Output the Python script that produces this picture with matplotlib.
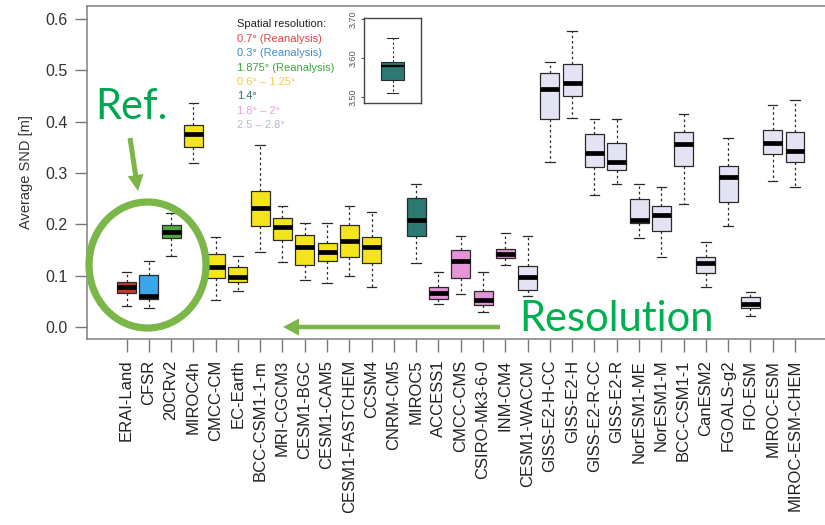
import matplotlib
matplotlib.use("Agg")
import matplotlib.pyplot as plt
from matplotlib.patches import Ellipse, FancyArrow

plt.rcParams['font.family'] = ['Liberation Sans', 'DejaVu Sans']

# snow depth per dataset: box quartiles, median and whisker ends (m)
models = ['ERAI-Land', 'CFSR', '20CRv2', 'MIROC4h', 'CMCC-CM', 'EC-Earth',
          'BCC-CSM1-1-m', 'MRI-CGCM3', 'CESM1-BGC', 'CESM1-CAM5', 'CESM1-FASTCHEM',
          'CCSM4', 'CNRM-CM5', 'MIROC5', 'ACCESS1', 'CMCC-CMS', 'CSIRO-Mk3-6-0',
          'INM-CM4', 'CESM1-WACCM', 'GISS-E2-H-CC', 'GISS-E2-H', 'GISS-E2-R-CC',
          'GISS-E2-R', 'NorESM1-ME', 'NorESM1-M', 'BCC-CSM1-1', 'CanESM2',
          'FGOALS-g2', 'FIO-ESM', 'MIROC-ESM', 'MIROC-ESM-CHEM']
# CNRM-CM5 is off the scale, so it gets None here and goes in the inset
q1 = [0.066, 0.054, 0.173, 0.351, 0.095, 0.088, 0.197, 0.170, 0.120, 0.129, 0.137,
      0.124, None, 0.178, 0.055, 0.095, 0.043, 0.134, 0.072, 0.405, 0.450, 0.311,
      0.306, 0.203, 0.187, 0.314, 0.106, 0.244, 0.038, 0.337, 0.321]
med = [0.077, 0.060, 0.186, 0.376, 0.116, 0.098, 0.231, 0.194, 0.155, 0.147, 0.168,
       0.155, None, 0.209, 0.066, 0.129, 0.053, 0.142, 0.098, 0.463, 0.475, 0.339,
       0.321, 0.209, 0.218, 0.357, 0.125, 0.292, 0.044, 0.359, 0.344]
q3 = [0.088, 0.101, 0.199, 0.394, 0.142, 0.116, 0.265, 0.213, 0.179, 0.163, 0.199,
      0.176, None, 0.252, 0.077, 0.151, 0.071, 0.153, 0.118, 0.496, 0.513, 0.376,
      0.359, 0.249, 0.236, 0.381, 0.137, 0.314, 0.059, 0.384, 0.381]
lo = [0.041, 0.038, 0.138, 0.319, 0.053, 0.070, 0.147, 0.127, 0.092, 0.085, 0.100,
      0.077, None, 0.125, 0.044, 0.064, 0.030, 0.120, 0.060, 0.322, 0.407, 0.257,
      0.278, 0.174, 0.137, 0.240, 0.077, 0.196, 0.022, 0.285, 0.273]
hi = [0.108, 0.129, 0.222, 0.437, 0.176, 0.138, 0.355, 0.236, 0.202, 0.202, 0.236,
      0.224, None, 0.278, 0.108, 0.178, 0.108, 0.183, 0.178, 0.516, 0.576, 0.405,
      0.405, 0.278, 0.272, 0.415, 0.165, 0.368, 0.069, 0.433, 0.443]
group = ['r07', 'r03', 'r1875', 'g06', 'g06', 'g06', 'g06', 'g06', 'g06', 'g06', 'g06',
         'g06', 'g14', 'g14', 'g18', 'g18', 'g18', 'g18', 'g25', 'g25', 'g25', 'g25',
         'g25', 'g25', 'g25', 'g25', 'g25', 'g25', 'g25', 'g25', 'g25']

# CNRM-CM5 box for the inset
cnrm = dict(q1=3.544, med=3.578, q3=3.590, whislo=3.509, whishi=3.652)

group_fill = {'r07': '#c4392e', 'r03': '#3ba7ea', 'r1875': '#4fa83b', 'g06': '#f3e41b',
              'g14': '#2b7b73', 'g18': '#e594d8', 'g25': '#e3e3f4'}
legend_title = 'Spatial resolution:'
legend_lines = ['0.7° (Reanalysis)', '0.3° (Reanalysis)', '1.875° (Reanalysis)',
                '0.6° – 1.25°', '1.4°', '1.8° – 2°', '2.5 – 2.8°']
legend_cols = ['#e0443c', '#3d90d8', '#3aa83a', '#f6c94c', '#2f6e68', '#eaa2dc', '#b9b9d6']

W, H = 825, 525
fig = plt.figure(figsize=(W / 100, H / 100), dpi=100)

def px_rect(x0, y0, x1, y1):
    return [x0 / W, 1 - y1 / H, (x1 - x0) / W, (y1 - y0) / H]

ax = fig.add_axes(px_rect(87, 6, 830, 339))

pos, stats, fills = [], [], []
for i, name in enumerate(models):
    if med[i] is None:
        continue
    pos.append(i + 1)
    stats.append(dict(label=name, q1=q1[i], med=med[i], q3=q3[i],
                      whislo=lo[i], whishi=hi[i], fliers=[]))
    fills.append(group_fill[group[i]])

box_w = 0.85
bp = ax.bxp(stats, positions=pos, widths=box_w, capwidths=box_w * 0.5,
            patch_artist=True, showfliers=False, manage_ticks=False,
            boxprops=dict(edgecolor='#2a2a2a', linewidth=0.9),
            medianprops=dict(color='black', linewidth=3.4, solid_capstyle='butt'),
            whiskerprops=dict(color='#2a2a2a', linewidth=0.9, linestyle=(0, (2, 2.2))),
            capprops=dict(color='#2a2a2a', linewidth=0.9))
for patch, c in zip(bp['boxes'], fills):
    patch.set_facecolor(c)

ax.set_xlim(-0.773, 32.57)
ax.set_ylim(-0.0234, 0.6257)
ax.set_xticks(range(1, len(models) + 1))
ax.set_xticklabels(models, rotation=90, fontsize=12, color='#222222')
ax.set_yticks([0.0, 0.1, 0.2, 0.3, 0.4, 0.5, 0.6])
ax.set_yticklabels(['0.0', '0.1', '0.2', '0.3', '0.4', '0.5', '0.6'],
                   fontsize=11.5, color='#333333')
ax.tick_params(axis='both', direction='out', length=9, width=1, colors='#777777')
ax.tick_params(axis='x', pad=6, labelcolor='#222222')
ax.tick_params(axis='y', pad=5, labelcolor='#333333')
for s in ax.spines.values():
    s.set_color('#808080')
    s.set_linewidth(1.1)
ax.set_ylabel('Average SND [m]', fontsize=10.5, color='#333333', labelpad=9)

# colour key for the resolution groups
ax.annotate(legend_title, xy=(237 / W, 1 - 24 / H), xycoords='figure fraction',
            fontsize=8, color='#222222', va='center')
for k, (txt, c) in enumerate(zip(legend_lines, legend_cols)):
    ax.annotate(txt, xy=(237 / W, 1 - (39 + 14.3 * k) / H), xycoords='figure fraction',
                fontsize=8, color=c, va='center')

# inset for the off-scale model
axi = fig.add_axes(px_rect(364, 17.7, 421, 102.7))
bpi = axi.bxp([dict(label='CNRM-CM5', fliers=[], **cnrm)], positions=[0.5], widths=0.4,
              capwidths=0.2, patch_artist=True, showfliers=False, manage_ticks=False,
              boxprops=dict(edgecolor='#2a2a2a', linewidth=0.8),
              medianprops=dict(color='black', linewidth=1.6),
              whiskerprops=dict(color='#2a2a2a', linewidth=0.8, linestyle=(0, (2, 2))),
              capprops=dict(color='#2a2a2a', linewidth=0.8))
bpi['boxes'][0].set_facecolor(group_fill['g14'])
axi.set_xlim(0, 1)
axi.set_ylim(3.485, 3.703)
axi.set_xticks([])
axi.set_yticks([3.5, 3.6, 3.7])
axi.set_yticklabels(['3.50', '3.60', '3.70'], rotation=90, va='center', fontsize=6.5,
                    color='#333333')
axi.tick_params(axis='y', length=2.5, width=0.8, pad=2, colors='#555555')
for s in axi.spines.values():
    s.set_color('#444444')
    s.set_linewidth(1.0)

# highlight layer drawn in pixel units
ov = fig.add_axes([0, 0, 1, 1])
ov.set_xlim(0, W)
ov.set_ylim(H, 0)
ov.axis('off')
ov.patch.set_alpha(0)
green = '#7ab648'
ov.add_patch(Ellipse((147.5, 265), 117, 126, fill=False, edgecolor=green, linewidth=5.2))
ov.add_patch(FancyArrow(130, 138, 8, 53, width=5, head_width=16, head_length=16,
                        length_includes_head=True, color=green, linewidth=0))
ov.add_patch(FancyArrow(500, 327, -217, 0, width=4.5, head_width=17, head_length=16,
                        length_includes_head=True, color=green, linewidth=0))
ov.text(95, 119, 'Ref.', fontsize=30, color='#00a651', family='Lato', va='baseline')
ov.text(519, 331, 'Resolution', fontsize=30, color='#00b050', family='Lato',
        va='baseline')

fig.savefig('out.png', dpi=100)
